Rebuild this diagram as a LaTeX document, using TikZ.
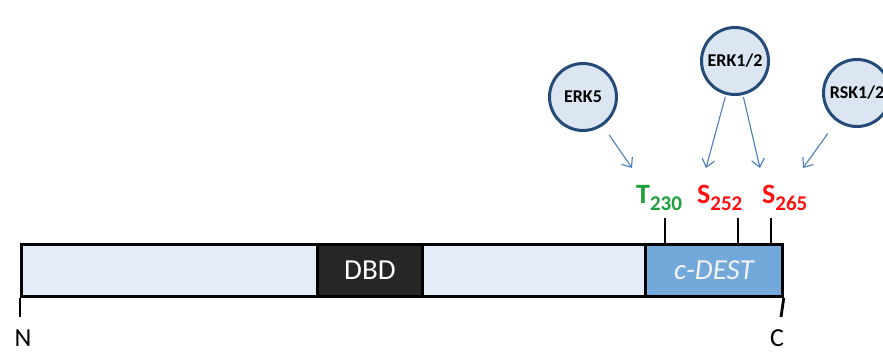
\documentclass[tikz,border=0pt]{standalone}
\usepackage{fontspec}
\setmainfont{Carlito}
\usetikzlibrary{arrows.meta}
\definecolor{barfill}{HTML}{E4EDF7}
\definecolor{dbdfill}{HTML}{262626}
\definecolor{destfill}{HTML}{72A9DA}
\definecolor{kinfill}{HTML}{DCE6F2}
\definecolor{kinline}{HTML}{244A78}
\definecolor{arrblue}{HTML}{4A7EBB}
\definecolor{sitegreen}{HTML}{1E9E3A}
\definecolor{sitered}{HTML}{FF1010}
\tikzset{
  seg/.style={draw=black, line width=2.8pt, minimum height=52pt, inner sep=0pt, anchor=north west},
  kinase/.style={circle, draw=kinline, fill=kinfill, line width=3pt, minimum size=67pt, inner sep=0pt,
    font=\fontsize{18}{18}\selectfont\bfseries, text=black},
  arr/.style={draw=arrblue, line width=1.1pt, -{Straight Barb[length=8pt,width=13pt]}},
  tick/.style={line width=2.8pt, black},
  site/.style={anchor=base west, inner sep=0pt, font=\fontsize{28}{28}\selectfont\bfseries},
  term/.style={anchor=base, inner sep=0pt, font=\fontsize{26}{26}\selectfont}
}
\newcommand{\sitesub}[1]{\raisebox{-7pt}{\fontsize{21}{21}\selectfont #1}}
\begin{document}
\begin{tikzpicture}[x=1pt, y=-1pt]
\useasboundingbox (0,0) rectangle (883,352);
\clip (0,0) rectangle (883,352);

% protein bar segments
\node[seg, fill=barfill, minimum width=296pt] (nseg) at (20,243) {};
\node[seg, fill=dbdfill, minimum width=105pt, text=white, font=\fontsize{29}{29}\selectfont] (dbd) at (316,243) {DBD};
\node[seg, fill=barfill, minimum width=223pt] (mseg) at (421,243) {};
\node[seg, fill=destfill, minimum width=137pt, text=white!95!black, font=\fontsize{29}{29}\selectfont\itshape] (cdest) at (644,243) {c-DEST};

% terminal markers
\coordinate (nend) at (20,317);
\coordinate (cend) at (781,317);
\draw[tick] (nseg.south west) -- (nend);
\draw[tick] (cdest.south east) -- (cend);
\node[term] (nlab) at (23,346) {N};
\node[term] (clab) at (777,346) {C};

% phosphorylation sites
\coordinate (p230) at (665,243);
\coordinate (p252) at (738,243);
\coordinate (p265) at (771,243);
\draw[tick] (p230) -- ++(0,-25);
\draw[tick] (p252) -- ++(0,-25);
\draw[tick] (p265) -- ++(0,-25);
\node[site, text=sitegreen] (t230) at (636,204) {T\sitesub{230}};
\node[site, text=sitered] (s252) at (697,204) {S\sitesub{252}};
\node[site, text=sitered] (s265) at (762,204) {S\sitesub{265}};

% kinases
\node[kinase] (erk5) at (583,97) {ERK5};
\node[kinase] (erk12) at (735,61) {ERK1/2};
\node[kinase] (rsk12) at (857,93) {RSK1/2};

% arrow heads just above the site labels
\coordinate (h230) at (632,168);
\coordinate (h252) at (706,168);
\coordinate (h265a) at (760,168);
\coordinate (h265b) at (803,168);
\draw[arr, shorten <=11pt] (erk5) -- (h230);
\draw[arr, shorten <=2pt] (erk12) -- (h252);
\draw[arr, shorten <=2pt] (erk12) -- (h265a);
\draw[arr, shorten <=15pt] (rsk12) -- (h265b);
\end{tikzpicture}
\end{document}
